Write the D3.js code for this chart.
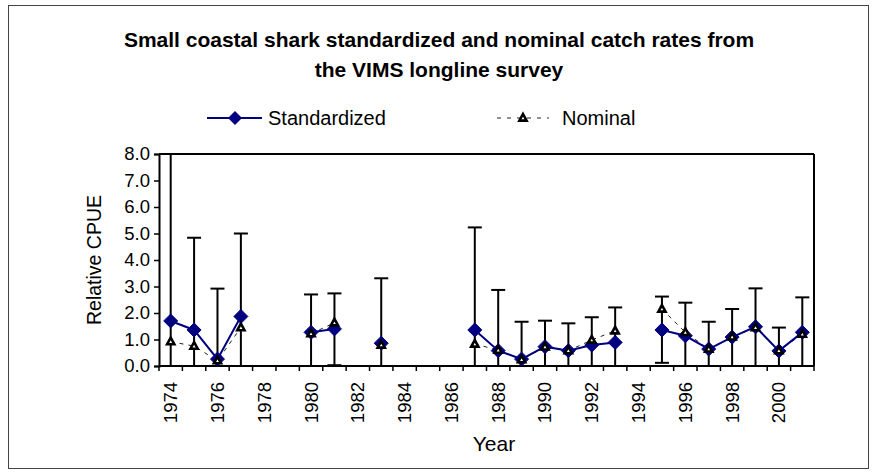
<!DOCTYPE html>
<html>
<head>
<meta charset="utf-8">
<script src="https://cdn.jsdelivr.net/npm/d3@7"></script>
<style>
  html, body { margin: 0; padding: 0; background: #fff; }
  svg { display: block; font-family: "Liberation Sans", Arial, sans-serif; }
</style>
</head>
<body>
<svg id="chart" width="876" height="474"></svg>
<script>
// ---- data ----
const years = d3.range(1974, 2002);
const standardized = [1.70, 1.36, 0.26, 1.87, null, null, 1.27, 1.40, null, 0.86, null, null, null, 1.36, 0.58, 0.26, 0.73, 0.58, 0.79, 0.89, null, 1.36, 1.14, 0.64, 1.09, 1.48, 0.57, 1.27];
const nominal      = [0.92, 0.75, 0.20, 1.45, null, null, 1.22, 1.63, null, 0.79, null, null, null, 0.83, 0.60, 0.24, 0.72, 0.58, 0.98, 1.33, null, 2.15, 1.27, 0.64, 1.10, 1.45, 0.58, 1.20];
const upperCI      = [8.00, 4.84, 2.92, 5.00, null, null, 2.70, 2.74, null, 3.31, null, null, null, 5.23, 2.87, 1.67, 1.71, 1.61, 1.84, 2.21, null, 2.62, 2.39, 1.67, 2.15, 2.93, 1.45, 2.59];
const lowerCI      = [0.00, 0.00, 0.00, 0.00, null, null, 0.00, 0.03, null, 0.00, null, null, null, 0.00, 0.00, 0.00, 0.00, 0.00, 0.00, 0.00, null, 0.12, 0.00, 0.00, 0.00, 0.00, 0.00, 0.00];
const yTicks = [0, 1, 2, 3, 4, 5, 6, 7, 8];
const xTickLabels = d3.range(1974, 2001, 2);
const titleLines = ["Small coastal shark standardized and nominal catch rates from", "the VIMS longline survey"];
const legendLabels = ["Standardized", "Nominal"];

// ---- layout ----
const svg = d3.select("#chart");
const plot = { left: 159, right: 814, top: 154, bottom: 366 };
const navy = "#000080";

svg.append("rect").attr("x", 8.5).attr("y", 5.5).attr("width", 860).attr("height", 463)
  .attr("fill", "#fff").attr("stroke", "#444").attr("stroke-width", 1);

const x = d3.scaleBand().domain(years).range([plot.left, plot.right]).padding(0);
const y = d3.scaleLinear().domain([0, 8]).range([plot.bottom, plot.top]);
const cx = d => x(d) + x.bandwidth() / 2;

// title
const title = svg.append("text").attr("text-anchor", "middle").attr("font-weight", "bold")
  .attr("font-size", 21).attr("fill", "#000");
titleLines.forEach((t, i) => title.append("tspan").attr("x", 439).attr("y", 47 + i * 30).text(t));

// plot border (top & right)
svg.append("line").attr("x1", plot.left).attr("x2", plot.right).attr("y1", plot.top).attr("y2", plot.top)
  .attr("stroke", "#000").attr("stroke-width", 2);
svg.append("line").attr("x1", plot.right).attr("x2", plot.right).attr("y1", plot.top).attr("y2", plot.bottom)
  .attr("stroke", "#000").attr("stroke-width", 2);

// y axis
const yAxis = d3.axisLeft(y).tickValues(yTicks).tickFormat(d3.format(".1f")).tickSizeOuter(0).tickSize(5).tickPadding(4);
const gy = svg.append("g").attr("transform", `translate(${plot.left},0)`).call(yAxis);
gy.select(".domain").attr("stroke", "#000").attr("stroke-width", 2);
gy.selectAll(".tick line").attr("stroke", "#000").attr("stroke-width", 1.5);
gy.selectAll(".tick text").attr("font-size", 18.5).attr("fill", "#000").attr("font-family", "Liberation Sans, Arial, sans-serif");

// x axis: ticks at band boundaries
const gx = svg.append("g").attr("transform", `translate(0,${plot.bottom})`);
gx.append("line").attr("x1", plot.left).attr("x2", plot.right).attr("y1", 0).attr("y2", 0)
  .attr("stroke", "#000").attr("stroke-width", 2);
gx.selectAll("line.tk").data(years.concat([2002])).join("line").attr("class", "tk")
  .attr("x1", d => d === 2002 ? plot.right : x(d)).attr("x2", d => d === 2002 ? plot.right : x(d))
  .attr("y1", 0).attr("y2", 5).attr("stroke", "#000").attr("stroke-width", 1.5);
gx.selectAll("text").data(xTickLabels).join("text")
  .attr("transform", d => `translate(${cx(d) + 6.5},16) rotate(-90)`)
  .attr("text-anchor", "end").attr("font-size", 18.5).attr("fill", "#000").text(d => d);

// axis titles
svg.append("text").attr("transform", `translate(101,${(plot.top + plot.bottom) / 2}) rotate(-90)`)
  .attr("text-anchor", "middle").attr("font-size", 19.5).attr("fill", "#000").text("Relative CPUE");
svg.append("text").attr("x", 494).attr("y", 451).attr("text-anchor", "middle")
  .attr("font-size", 21).attr("fill", "#000").text("Year");

// data rows
const rows = years.map((yr, i) => ({ yr, s: standardized[i], n: nominal[i], hi: upperCI[i], lo: lowerCI[i] }));

// error bars
const eb = svg.append("g").selectAll("g").data(rows.filter(d => d.hi !== null)).join("g");
eb.append("line").attr("x1", d => cx(d.yr)).attr("x2", d => cx(d.yr))
  .attr("y1", d => y(d.lo)).attr("y2", d => y(d.hi)).attr("stroke", "#000").attr("stroke-width", 2);
eb.append("line").attr("x1", d => cx(d.yr) - 7).attr("x2", d => cx(d.yr) + 7)
  .attr("y1", d => y(d.hi)).attr("y2", d => y(d.hi)).attr("stroke", "#000").attr("stroke-width", 2);
eb.append("line").attr("x1", d => cx(d.yr) - 7).attr("x2", d => cx(d.yr) + 7)
  .attr("y1", d => y(d.lo)).attr("y2", d => y(d.lo)).attr("stroke", "#000").attr("stroke-width", 2);

// nominal line (dashed)
const lineN = d3.line().defined(d => d.n !== null).x(d => cx(d.yr)).y(d => y(d.n));
svg.append("path").datum(rows).attr("d", lineN).attr("fill", "none")
  .attr("stroke", "#222").attr("stroke-width", 1).attr("stroke-dasharray", "4,5");

// standardized line
const lineS = d3.line().defined(d => d.s !== null).x(d => cx(d.yr)).y(d => y(d.s));
svg.append("path").datum(rows).attr("d", lineS).attr("fill", "none")
  .attr("stroke", navy).attr("stroke-width", 2);

const diamondPath = "M0,-7L7,0L0,7L-7,0Z";
const triPath = "M0,-4L3.6,2.6L-3.6,2.6Z";

svg.append("g").selectAll("path").data(rows.filter(d => d.s !== null)).join("path")
  .attr("d", diamondPath).attr("transform", d => `translate(${cx(d.yr)},${y(d.s)})`)
  .attr("fill", navy).attr("stroke", navy).attr("stroke-width", 1);

svg.append("g").selectAll("path").data(rows.filter(d => d.n !== null)).join("path")
  .attr("d", triPath).attr("transform", d => `translate(${cx(d.yr)},${y(d.n)})`)
  .attr("fill", "#fff").attr("stroke", "#000").attr("stroke-width", 2.6);

// legend
const ly = 118;
svg.append("line").attr("x1", 207).attr("x2", 262).attr("y1", ly).attr("y2", ly).attr("stroke", navy).attr("stroke-width", 2);
svg.append("path").attr("d", diamondPath).attr("transform", `translate(235,${ly})`).attr("fill", navy);
svg.append("text").attr("x", 268).attr("y", ly + 7).attr("font-size", 20).attr("fill", "#000").text(legendLabels[0]);
svg.append("line").attr("x1", 497).attr("x2", 549).attr("y1", ly).attr("y2", ly)
  .attr("stroke", "#222").attr("stroke-width", 1).attr("stroke-dasharray", "4,6");
svg.append("path").attr("d", triPath).attr("transform", `translate(523,${ly})`)
  .attr("fill", "#fff").attr("stroke", "#000").attr("stroke-width", 2.6);
svg.append("text").attr("x", 562).attr("y", ly + 7).attr("font-size", 20).attr("fill", "#000").text(legendLabels[1]);
</script>
</body>
</html>
